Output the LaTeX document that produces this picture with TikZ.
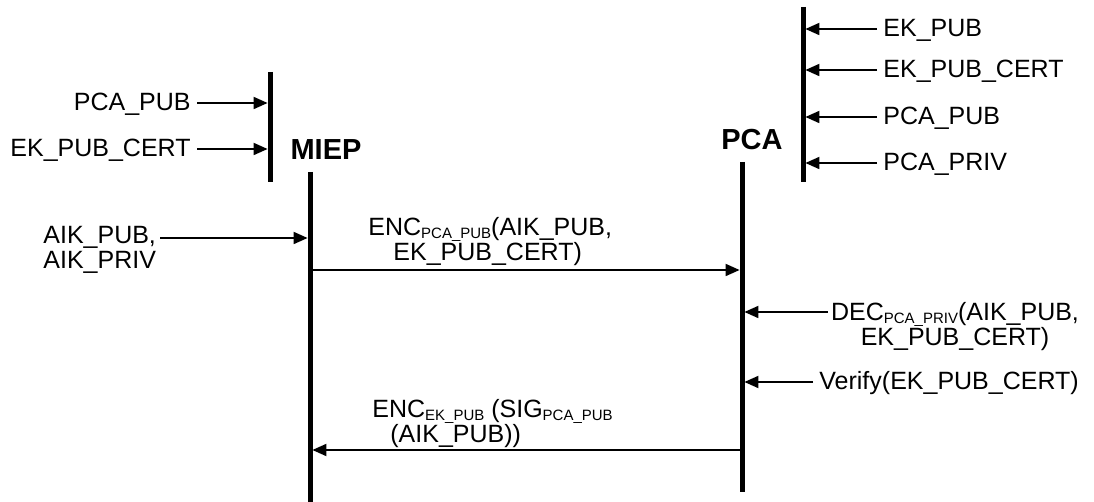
\documentclass[tikz,border=0pt]{standalone}
\usepackage{fontspec}
\setmainfont{Liberation Sans}
\usetikzlibrary{arrows.meta,positioning,calc}
\tikzset{
  lifeline/.style = {line width=2.5pt},
  msg/.style      = {-{Triangle[length=7pt,width=6pt]}, line width=0.9pt, shorten >=1.2pt},
  lbl/.style      = {inner sep=3pt, text height=0.716em, text depth=0pt,
                     font=\fontsize{12.5}{13}\selectfont},
  txt/.style      = {inner sep=0pt, font=\fontsize{12.5}{12.5}\selectfont},
  actor/.style    = {inner sep=0pt, font=\fontsize{14.5}{16}\selectfont\bfseries},
}
\newcommand{\lowsub}[1]{\raisebox{-1.3pt}{\fontsize{7.5}{8}\selectfont #1}}

\begin{document}
\begin{tikzpicture}[x=0.5pt,y=-0.5pt]
\useasboundingbox (0,0) rectangle (1094,502);

% entities and lifelines
\node[actor] (miep) at (326,150) {MIEP};
\node[actor] (pca) at (752,140) {PCA};
\coordinate (mieptop) at (310,172); \coordinate (miepbot) at (310,502);
\coordinate (pcatop) at (742,162);  \coordinate (pcabot) at (742,492);
\coordinate (mbartop) at (270,72);  \coordinate (mbarbot) at (270,182);
\coordinate (pbartop) at (803,7);   \coordinate (pbarbot) at (803,182);
\draw[lifeline] (mieptop) -- (miepbot);
\draw[lifeline] (pcatop) -- (pcabot);
\draw[lifeline] (mbartop) -- (mbarbot);
\draw[lifeline] (pbartop) -- (pbarbot);

% keys known to MIEP
\node[lbl,anchor=east] (pcapubM) at (197,103) {PCA\_PUB};
\node[lbl,anchor=east] (ekcertM) at (197,149) {EK\_PUB\_CERT};
\draw[msg] (pcapubM.east) -- (mbartop |- pcapubM.east);
\draw[msg] (ekcertM.east) -- (mbartop |- ekcertM.east);

% keys known to PCA
\node[lbl,anchor=west] (ekpubP) at (877,29) {EK\_PUB};
\node[lbl,anchor=west] (ekcertP) at (877,70) {EK\_PUB\_CERT};
\node[lbl,anchor=west] (pcapubP) at (877,117) {PCA\_PUB};
\node[lbl,anchor=west] (pcaprivP) at (877,163) {PCA\_PRIV};
\foreach \k in {ekpubP,ekcertP,pcapubP,pcaprivP}
  \draw[msg] (\k.west) -- (pbartop |- \k.west);

% AIK pair
\node[txt,align=left,anchor=north west] (aik) at (43,226) {AIK\_PUB,\\AIK\_PRIV};
\draw[msg] ($(aik.north east)+(4,12)$) -- (mieptop |- 0,238);

% request
\coordinate (reqS) at (310,270); \coordinate (reqE) at (742,270);
\draw[msg] (reqS) -- (reqE);
\node[txt,align=left,anchor=north west] (enc) at (368,217)
  {ENC\lowsub{PCA\_PUB}(AIK\_PUB,\\\hspace*{12.5pt}EK\_PUB\_CERT)};

% PCA side steps
\node[txt,align=center,anchor=north] (dec) at (955,302)
  {DEC\lowsub{PCA\_PRIV}(AIK\_PUB,\\EK\_PUB\_CERT)};
\draw[msg] ($(dec.north west)+(-3,10)$) -- (pcatop |- 0,312);
\node[lbl,anchor=west] (verify) at (813,382) {Verify(EK\_PUB\_CERT)};
\draw[msg] (verify.west) -- (pcatop |- verify.west);

% reply
\coordinate (repS) at (742,450); \coordinate (repE) at (310,450);
\draw[msg] (repS) -- (repE);
\node[txt,align=left,anchor=north west] (encr) at (372,399)
  {ENC\lowsub{EK\_PUB} (SIG\lowsub{PCA\_PUB}\\\hspace*{9pt}(AIK\_PUB))};
\end{tikzpicture}
\end{document}
